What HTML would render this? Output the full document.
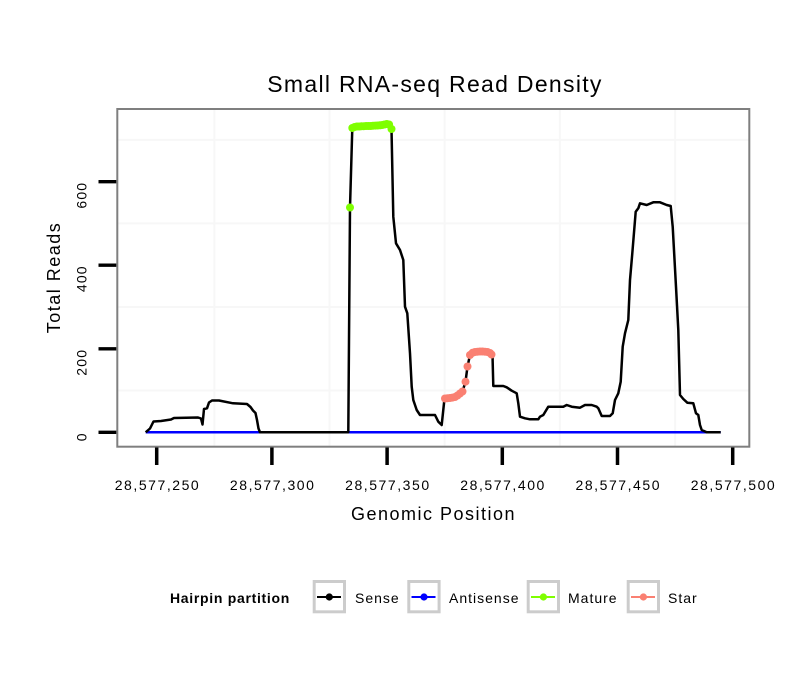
<!DOCTYPE html>
<html>
<head>
<meta charset="utf-8">
<style>
html,body{margin:0;padding:0;background:#fff;}
svg{display:block;}
text{font-family:"Liberation Sans",Arial,sans-serif;fill:#000;}
</style>
</head>
<body>
<svg width="810" height="690" viewBox="0 0 810 690" xmlns="http://www.w3.org/2000/svg">
<rect x="0" y="0" width="810" height="690" fill="#fff"/>

<!-- title -->
<text x="435" y="92" font-size="23" text-anchor="middle" letter-spacing="1.3">Small RNA-seq Read Density</text>

<!-- panel background & grid -->
<rect x="117.3" y="109" width="632" height="337.7" fill="#fff"/>
<g stroke="#f7f7f7" stroke-width="2">
<line x1="214.3" y1="110" x2="214.3" y2="446"/>
<line x1="329.5" y1="110" x2="329.5" y2="446"/>
<line x1="444.7" y1="110" x2="444.7" y2="446"/>
<line x1="559.9" y1="110" x2="559.9" y2="446"/>
<line x1="675.1" y1="110" x2="675.1" y2="446"/>
<line x1="118" y1="390.5" x2="748.5" y2="390.5"/>
<line x1="118" y1="307" x2="748.5" y2="307"/>
<line x1="118" y1="223.4" x2="748.5" y2="223.4"/>
<line x1="118" y1="139.9" x2="748.5" y2="139.9"/>
</g>

<!-- antisense (blue) -->
<line x1="145.7" y1="432.3" x2="720.7" y2="432.3" stroke="#0000ff" stroke-width="2.5"/>

<!-- sense (black) -->
<polyline fill="none" stroke="#000" stroke-width="2.5" stroke-linejoin="round" points="
145.7,432.3 150,428.5 153.5,421.5 161,421 171,419.5 174,418 198,417.5 201,418.5 202.5,424.5 204,409 207,408.3 209,402.5 212,400.5 219,400.5 233,403.3 247,404 250.5,407 253,410.5 255.5,413 257,420 258.5,428.5 260,432.3
348.3,432.3 350,207.5 352.3,128 354.6,127 356.9,126.5 359.2,126.5 361.5,126.3 363.8,126.2 366.1,126 368.4,126 370.7,126 373,125.8 375.3,125.6 377.6,125.5 379.9,125.3 382.2,125 384.5,124.5 386.8,124 389.1,124.5 391.5,129
393.3,216.7 396,243.3 400,250 403.3,260 405,306.7 407.3,313.3 410,353.3 411.7,386.7 413.3,400 416.7,410 420,415 435,415 438.3,421.7 441.7,425
444.5,398.5 447.5,398.2 450,398 452.5,397.6 455,397 457.5,395.5 460,393.5 462.5,391.5 465.5,381.7 467.5,366.5 470,355 472.5,352.8 475,352 477.5,351.7 480,351.5 482.5,351.5 485,351.7 487.5,352 490,353 492.5,355
493.3,386 503.3,386 506.7,387.3 511.7,390.7 516.7,393.3 518.3,403.3 520,416.7 525,418.3 530,419.3 538.3,419.3 540,416.7 543.3,415 548.3,406.7 563.3,406.7 566.7,405 571.7,406.7 580,407.7 585,405 591.7,405 596.7,406.7 598.3,408.3 601.7,416 610,416 612.7,413.3 615,400 618.3,393.3 620.7,381.7 622.7,346.7 625,333.3 628.3,320 630,280 632.3,253.3 635.7,211.7 638.3,208.3 640,203.3 646.7,205 653.3,202.3 660,202.3 666.7,205 670.7,206 672.7,226.7 676,286.7 678.3,330 680,395 683.3,399 687.3,402.7 693.3,403.3 696,413.3 698.3,415 700,425 701.7,430 706.7,432.3 720.7,432.3"/>

<!-- mature (green) points -->
<g fill="#7fff00">
<circle cx="350" cy="207.5" r="4"/>
<circle cx="352.3" cy="128" r="4"/>
<circle cx="354.6" cy="127" r="4"/>
<circle cx="356.9" cy="126.5" r="4"/>
<circle cx="359.2" cy="126.5" r="4"/>
<circle cx="361.5" cy="126.3" r="4"/>
<circle cx="363.8" cy="126.2" r="4"/>
<circle cx="366.1" cy="126" r="4"/>
<circle cx="368.4" cy="126" r="4"/>
<circle cx="370.7" cy="126" r="4"/>
<circle cx="373" cy="125.8" r="4"/>
<circle cx="375.3" cy="125.6" r="4"/>
<circle cx="377.6" cy="125.5" r="4"/>
<circle cx="379.9" cy="125.3" r="4"/>
<circle cx="382.2" cy="125" r="4"/>
<circle cx="384.5" cy="124.5" r="4"/>
<circle cx="386.8" cy="124" r="4"/>
<circle cx="389.1" cy="124.5" r="4"/>
<circle cx="391.5" cy="129" r="4"/>
</g>

<!-- star (salmon) points -->
<g fill="#fa8072">
<circle cx="445" cy="398.5" r="4"/>
<circle cx="447.5" cy="398.2" r="4"/>
<circle cx="450" cy="398" r="4"/>
<circle cx="452.5" cy="397.6" r="4"/>
<circle cx="455" cy="397" r="4"/>
<circle cx="457.5" cy="395.5" r="4"/>
<circle cx="460" cy="393.5" r="4"/>
<circle cx="462.5" cy="391.5" r="4"/>
<circle cx="465.5" cy="381.7" r="4"/>
<circle cx="467.5" cy="366.5" r="4"/>
<circle cx="470" cy="355" r="4"/>
<circle cx="472.5" cy="352.8" r="4"/>
<circle cx="475" cy="352" r="4"/>
<circle cx="477.5" cy="351.7" r="4"/>
<circle cx="480" cy="351.5" r="4"/>
<circle cx="482.5" cy="351.5" r="4"/>
<circle cx="485" cy="351.7" r="4"/>
<circle cx="487.5" cy="352" r="4"/>
<circle cx="490" cy="353" r="4"/>
<circle cx="491.5" cy="354.5" r="4"/>
</g>

<!-- panel border -->
<rect x="117.3" y="109" width="632" height="337.7" fill="none" stroke="#7f7f7f" stroke-width="2"/>

<!-- y ticks -->
<g stroke="#000" stroke-width="3.3">
<line x1="98.5" y1="432.3" x2="116.3" y2="432.3"/>
<line x1="98.5" y1="348.8" x2="116.3" y2="348.8"/>
<line x1="98.5" y1="265.2" x2="116.3" y2="265.2"/>
<line x1="98.5" y1="181.7" x2="116.3" y2="181.7"/>
</g>
<g font-size="14" letter-spacing="1.2" text-anchor="end">
<text transform="translate(86.5,432.3) rotate(-90)">0</text>
<text transform="translate(86.5,348.8) rotate(-90)">200</text>
<text transform="translate(86.5,265.2) rotate(-90)">400</text>
<text transform="translate(86.5,181.7) rotate(-90)">600</text>
</g>

<!-- x ticks -->
<g stroke="#000" stroke-width="3.5">
<line x1="156.7" y1="447.5" x2="156.7" y2="465"/>
<line x1="271.9" y1="447.5" x2="271.9" y2="465"/>
<line x1="387.1" y1="447.5" x2="387.1" y2="465"/>
<line x1="502.3" y1="447.5" x2="502.3" y2="465"/>
<line x1="617.5" y1="447.5" x2="617.5" y2="465"/>
<line x1="732.7" y1="447.5" x2="732.7" y2="465"/>
</g>
<g font-size="14" letter-spacing="1.55" text-anchor="middle">
<text x="157.5" y="490">28,577,250</text>
<text x="272.7" y="490">28,577,300</text>
<text x="387.9" y="490">28,577,350</text>
<text x="503.1" y="490">28,577,400</text>
<text x="618.3" y="490">28,577,450</text>
<text x="733.5" y="490">28,577,500</text>
</g>

<!-- axis titles -->
<text x="433.5" y="520" font-size="18" text-anchor="middle" letter-spacing="1.5">Genomic Position</text>
<text transform="translate(60,277.5) rotate(-90)" font-size="18" text-anchor="middle" letter-spacing="1.5">Total Reads</text>

<!-- legend -->
<text x="170" y="603" font-size="14" font-weight="bold" letter-spacing="0.7">Hairpin partition</text>
<g fill="#fff" stroke="#cccccc" stroke-width="3">
<rect x="314.2" y="581.5" width="30.3" height="30.3"/>
<rect x="408.8" y="581.5" width="30.3" height="30.3"/>
<rect x="528.2" y="581.5" width="30.3" height="30.3"/>
<rect x="628.2" y="581.5" width="30.3" height="30.3"/>
</g>
<g stroke-width="2">
<line x1="317" y1="597" x2="341" y2="597" stroke="#000"/>
<line x1="411.5" y1="597" x2="435.5" y2="597" stroke="#0000ff"/>
<line x1="531" y1="597" x2="555" y2="597" stroke="#7fff00"/>
<line x1="631" y1="597" x2="655" y2="597" stroke="#fa8072"/>
</g>
<circle cx="329.3" cy="597" r="3.6" fill="#000"/>
<circle cx="424" cy="597" r="3.6" fill="#0000ff"/>
<circle cx="543.4" cy="597" r="3.6" fill="#7fff00"/>
<circle cx="643.4" cy="597" r="3.6" fill="#fa8072"/>
<g font-size="14" letter-spacing="1">
<text x="355" y="603">Sense</text>
<text x="449" y="603">Antisense</text>
<text x="568" y="603">Mature</text>
<text x="668" y="603">Star</text>
</g>
</svg>
</body>
</html>
